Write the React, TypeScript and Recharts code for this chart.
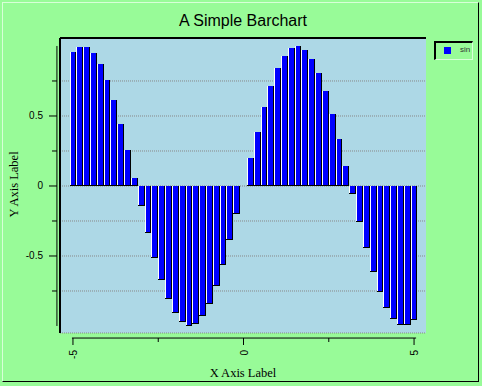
import React from 'react';
import { BarChart, Bar, XAxis, YAxis, CartesianGrid, Legend, ReferenceLine } from 'recharts';

// x positions of the bars and their sin heights
const xValues = [
  -5, -4.8, -4.6, -4.4, -4.2, -4, -3.8, -3.6, -3.4, -3.2, -3, -2.8, -2.6, -2.4, -2.2, -2, -1.8,
  -1.6, -1.4, -1.2, -1, -0.8, -0.6, -0.4, -0.2, 0, 0.2, 0.4, 0.6, 0.8, 1, 1.2, 1.4, 1.6, 1.8,
  2, 2.2, 2.4, 2.6, 2.8, 3, 3.2, 3.4, 3.6, 3.8, 4, 4.2, 4.4, 4.6, 4.8, 5,
];
const sinValues = [
  0.959, 0.996, 0.994, 0.952, 0.872, 0.757, 0.612, 0.443, 0.256, 0.058, -0.141, -0.335, -0.516,
  -0.675, -0.808, -0.909, -0.974, -1.0, -0.985, -0.932, -0.841, -0.717, -0.565, -0.389, -0.199,
  0, 0.199, 0.389, 0.565, 0.717, 0.841, 0.932, 0.985, 1.0, 0.974, 0.909, 0.808, 0.675, 0.516,
  0.335, 0.141, -0.058, -0.256, -0.443, -0.612, -0.757, -0.872, -0.952, -0.994, -0.996, -0.959,
];
const xTicks = [-5, -2.5, 0, 2.5, 5];
const xLabelled = [-5, 0, 5];
const yTicks = [-0.75, -0.5, -0.25, 0, 0.25, 0.5, 0.75];
const yLabelled = [-0.5, 0, 0.5];

const rows = xValues.map((x, i) => ({ x, sin: sinValues[i] }));

const xDomain: [number, number] = [-5.38, 5.35];
const yDomain: [number, number] = [-1.05, 1.057];
const sansFont = '"Liberation Sans", Arial, sans-serif';
const serifFont = '"Liberation Serif", "Times New Roman", serif';

const BarShape = (props: any) => {
  const { x, y, width, height } = props;
  if (!height || Math.abs(height) < 0.5) return null;
  const top = Math.round(Math.min(y, y + height));
  const bottom = Math.round(Math.max(y, y + height));
  const left = Math.round(x);
  const right = Math.round(x + width + 0.02);
  return (
    <g>
      <rect x={left} y={top} width={right - left} height={bottom - top} fill="#0000FF" />
      <line x1={left + 0.5} x2={left + 0.5} y1={top} y2={bottom} stroke="#FFFFFF" />
      <line x1={right - 0.5} x2={right - 0.5} y1={top} y2={bottom} stroke="#000000" />
      <line x1={left} x2={right} y1={bottom - 0.5} y2={bottom - 0.5} stroke="#000000" />
    </g>
  );
};

const XTick = (props: any) => {
  const { x, y, payload } = props;
  const v = payload.value;
  const major = xLabelled.includes(v);
  return (
    <g>
      <line x1={x} x2={x} y1={y + 5} y2={y + (major ? 12 : 9)} stroke="#000" />
      {major && (
        <text
          x={x + 4}
          y={y + 17}
          transform={`rotate(-90 ${x + 4} ${y + 17})`}
          textAnchor="end"
          fontSize={10}
          fontFamily={sansFont}
          fill="#000"
        >
          {String(v)}
        </text>
      )}
    </g>
  );
};

const YTick = (props: any) => {
  const { x, y, payload } = props;
  const v = payload.value;
  const major = yLabelled.includes(v);
  return (
    <g>
      <line x1={x - 3} x2={x - (major ? 11 : 8)} y1={y} y2={y} stroke="#000" />
      {major && (
        <text x={x - 17} y={y} dy={3.5} textAnchor="end" fontSize={10} fontFamily={sansFont} fill="#000">
          {String(v)}
        </text>
      )}
    </g>
  );
};

const TitleLabel = (props: any) => {
  const vb = props.viewBox || { x: 60, y: 38, width: 366 };
  return (
    <text x={vb.x + vb.width / 2} y={vb.y - 12} textAnchor="middle" fontSize={16} fontFamily={sansFont} fill="#000">
      A Simple Barchart
    </text>
  );
};

const XLabel = (props: any) => {
  const vb = props.viewBox || { x: 60, y: 333, width: 366 };
  return (
    <text x={vb.x + vb.width / 2} y={vb.y + 44} textAnchor="middle" fontSize={12.5} fontFamily={serifFont} fill="#000">
      X Axis Label
    </text>
  );
};

const YLabel = (props: any) => {
  const vb = props.viewBox || { x: 0, y: 38, height: 295 };
  const cx = vb.x + 18;
  const cy = vb.y + vb.height / 2 - 1;
  return (
    <text x={cx} y={cy} transform={`rotate(-90 ${cx} ${cy})`} textAnchor="middle" fontSize={12.5} fontFamily={serifFont} fill="#000">
      Y Axis Label
    </text>
  );
};

const LegendBox = (props: any) => {
  const item = (props.payload && props.payload[0]) || { value: 'sin', color: '#0000FF' };
  return (
    <div
      style={{
        width: 39,
        height: 19,
        boxSizing: 'border-box',
        borderTop: '2px solid #000',
        borderLeft: '2px solid #000',
        borderRight: '1px solid #d8ffd8',
        borderBottom: '1px solid #d8ffd8',
        position: 'relative',
      }}
    >
      <div style={{ position: 'absolute', left: 8, top: 4, width: 7, height: 7, background: '#0000FF' }} />
      <span
        style={{
          position: 'absolute',
          left: 24,
          top: 2,
          fontSize: 8,
          lineHeight: '10px',
          fontFamily: sansFont,
          color: '#333',
        }}
      >
        {item.value}
      </span>
    </div>
  );
};

export default function App() {
  return (
    <div style={{ position: 'absolute', left: 0, top: 0, width: 482, height: 386, background: '#98FB98' }}>
      <div
        style={{
          position: 'absolute',
          left: 2,
          top: 2,
          width: 477,
          height: 380,
          boxSizing: 'border-box',
          borderTop: '1px solid #d8ffd8',
          borderLeft: '1px solid #d8ffd8',
          borderRight: '1px solid #000',
          borderBottom: '1px solid #000',
        }}
      />
      <BarChart
        width={482}
        height={386}
        data={rows}
        margin={{ top: 38, right: 56, bottom: 0, left: 0 }}
        barCategoryGap={0}
        barGap={0}
        style={{ position: 'absolute', left: 0, top: 0 }}
      >
        <CartesianGrid fill="#ADD8E6" vertical={false} stroke="#888" strokeDasharray="1 1" />
        <XAxis
          dataKey="x"
          type="number"
          domain={xDomain}
          ticks={xTicks}
          interval={0}
          height={53}
          axisLine={false}
          tickLine={false}
          tickSize={0}
          tickMargin={0}
          tick={<XTick />}
          label={{ content: XLabel }}
        />
        <YAxis
          type="number"
          domain={yDomain}
          ticks={yTicks}
          interval={0}
          width={60}
          axisLine={{ stroke: '#000', strokeWidth: 2 }}
          tickLine={false}
          tickSize={0}
          tickMargin={0}
          tick={<YTick />}
          label={{ content: YLabel }}
        />
        <ReferenceLine
          y={yDomain[1]}
          stroke="#000"
          strokeWidth={2}
          ifOverflow="visible"
          label={{ content: TitleLabel }}
        />
        <ReferenceLine
          segment={[{ x: -5.47, y: -1 }, { x: -5.47, y: 1 }]}
          stroke="#000"
          ifOverflow="visible"
        />
        <ReferenceLine
          segment={[{ x: -5.03, y: -1.086 }, { x: 5.06, y: -1.086 }]}
          stroke="#000"
          ifOverflow="visible"
        />
        <Legend
          layout="vertical"
          align="center"
          verticalAlign="middle"
          wrapperStyle={{ position: 'absolute', left: 434, top: 41, width: 39, height: 19 }}
          content={<LegendBox />}
        />
        <Bar dataKey="sin" name="sin" fill="#0000FF" barSize={6.8} shape={<BarShape />} isAnimationActive={false} />
      </BarChart>
    </div>
  );
}
